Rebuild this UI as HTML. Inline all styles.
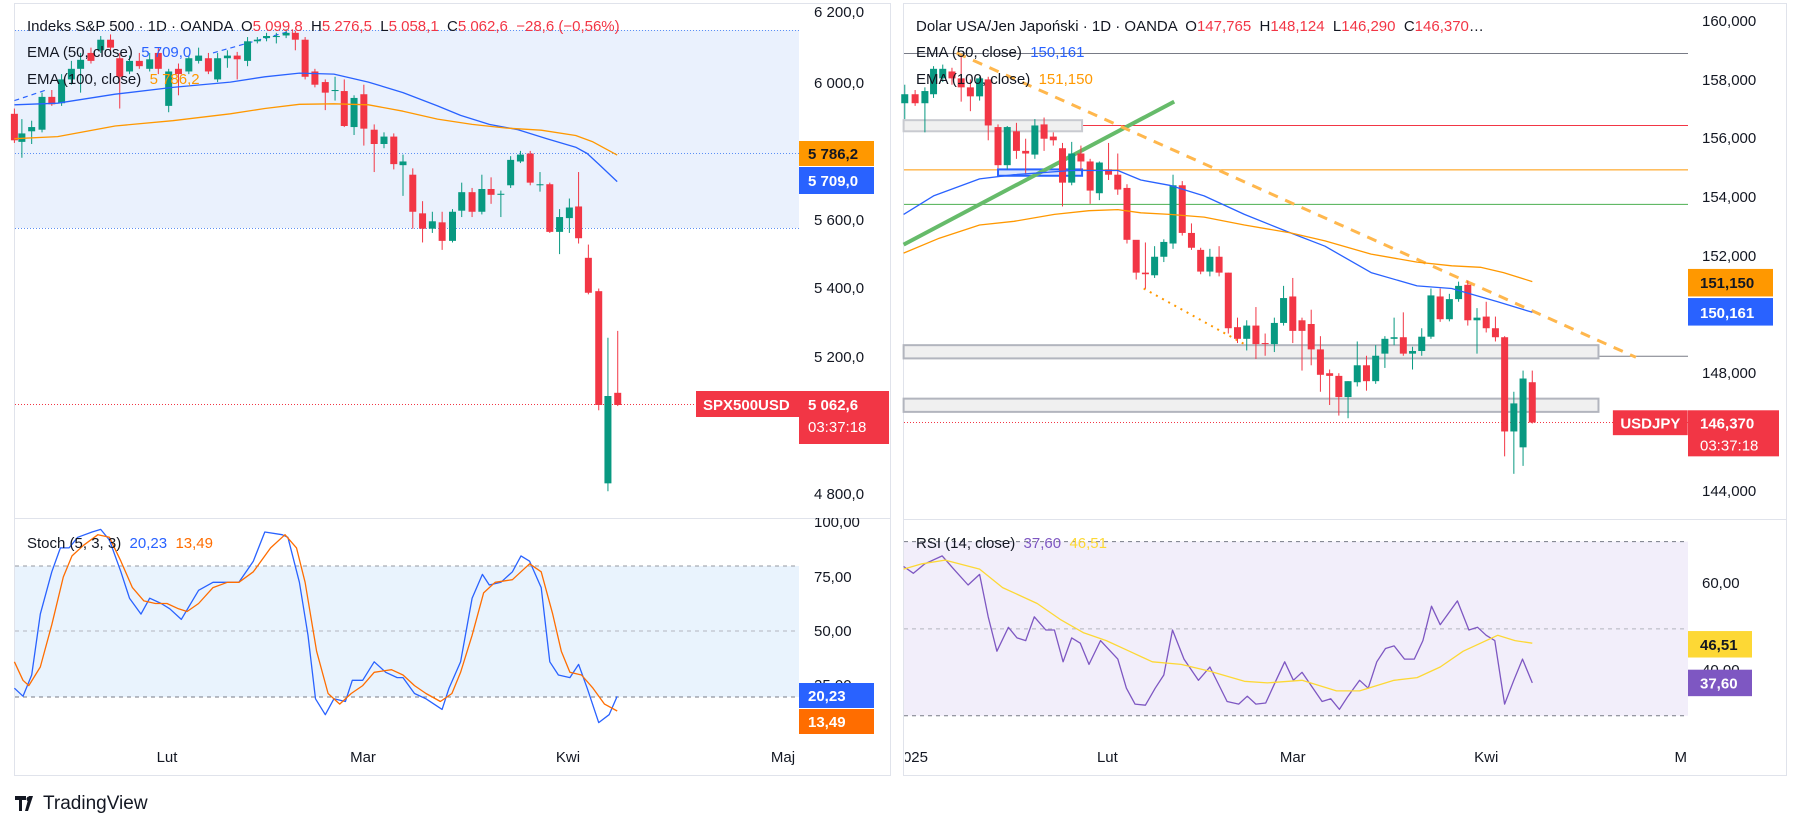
<!DOCTYPE html>
<html><head><meta charset="utf-8"><style>
html,body{margin:0;padding:0;background:#fff;width:1798px;height:829px;overflow:hidden}
svg{display:block;font-family:"Liberation Sans",sans-serif}
</style></head><body>
<svg id="s" width="1798" height="829" xmlns="http://www.w3.org/2000/svg">
<defs><clipPath id="rc"><rect x="905" y="0" width="880" height="829"/></clipPath></defs>
<rect x="14.5" y="3.5" width="876" height="772" fill="#fff" stroke="#e0e3eb"/>
<rect x="903.5" y="3.5" width="883" height="772" fill="#fff" stroke="#e0e3eb"/>
<line x1="15" y1="518.5" x2="890" y2="518.5" stroke="#e0e3eb"/>
<line x1="904" y1="519.5" x2="1786" y2="519.5" stroke="#e0e3eb"/>
<text x="928" y="762" font-size="15" fill="#131722" text-anchor="end" clip-path="url(#rc)">2025</text>
<g id="g"></g>
<g transform="translate(15,794)">
<path d="M0 2h11v4H7v11H4V6H0z M14 2h4l-5 15h-3z" fill="#131722"/>
<circle cx="14" cy="5" r="2.5" fill="#131722"/>
<text x="28" y="15" font-size="19" fill="#131722">TradingView</text>
</g>
</svg>
<script>
var NS="http://www.w3.org/2000/svg",G=document.getElementById('g');
function el(t,a,txt){var e=document.createElementNS(NS,t);for(var k in a)e.setAttribute(k,a[k]);if(txt!=null)e.textContent=txt;G.appendChild(e);return e;}
var SX=0.5757,SY=0.5294;
function z1(x,y){return [x*SX,y*SY];}
function z2(x,y){return [899+x*SX,y*SY];}
function poly(f,pts,st,w,dash){var s=pts.map(function(p){var q=f(p[0],p[1]);return q[0].toFixed(1)+','+q[1].toFixed(1)}).join(' ');var a={points:s,fill:'none',stroke:st,'stroke-width':w,'stroke-linejoin':'round'};if(dash)a['stroke-dasharray']=dash;el('polyline',a);}
function rect(x,y,w,h,f,o){var a={x:x,y:y,width:w,height:h,fill:f};if(o)for(var k in o)a[k]=o[k];el('rect',a);}
function txt(x,y,s,c,sz,anc,wt){var a={x:x,y:y,fill:c,'font-size':sz||15};if(anc)a['text-anchor']=anc;if(wt)a['font-weight']=wt;return el('text',a,s);}
function hl(x1,x2,y,c,w,d){var a={x1:x1,x2:x2,y1:y,y2:y,stroke:c,'stroke-width':w||1};if(d)a['stroke-dasharray']=d;el('line',a);}
var GR='#089981',RD='#f23645';

rect(15,30,784,198,'#eaf1fd');
hl(15,799,30.5,'#5b8ff5',1,'1 2');hl(15,799,153.5,'#5b8ff5',1,'1 2');hl(15,799,228.5,'#5b8ff5',1,'1 2');
hl(15,799,404.5,RD,1,'1 2');
rect(15,566,784,131,'#e9f3fd');
hl(15,799,566,'#9598a1',1,'4 4');hl(15,799,631,'#b2b5be',1,'4 4');hl(15,799,697,'#787b86',1,'4 4');
poly(z1,[[25,190],[80,170]],'#2962ff',1.2,'5 4');poly(z1,[[370,100],[500,60]],'#2962ff',1.2,'5 4');
var c1=[[25,215,265,'r',205,270],[38,252,268,'g',225,298],[55,240,248,'g',228,272],[73,183,245,'g',175,250],[90,183,197,'r',170,200],[107,150,195,'g',140,200],[124,130,150,'g',115,160],[140,113,130,'g',100,175],[158,100,115,'r',90,120],[175,75,95,'g',68,100],[192,75,90,'r',65,95],[208,110,145,'r',100,205],[225,115,135,'g',105,140],[242,115,125,'r',100,130],[260,112,130,'g',100,135],[275,100,130,'r',90,140],[293,135,200,'g',130,212],[310,130,140,'r',120,180],[328,110,135,'g',105,140],[345,105,115,'g',90,120],[362,110,135,'r',100,140],[378,110,150,'g',100,155],[395,105,110,'g',95,128],[412,105,112,'r',98,150],[430,78,115,'g',70,125],[447,75,78,'g',70,82],[463,68,72,'g',62,78],[480,68,70,'g',62,82],[497,62,67,'g',55,72],[513,62,75,'r',58,95],[530,75,145,'r',70,150],[547,135,160,'r',130,165],[565,155,175,'r',150,208],[582,170,172,'g',145,190],[598,172,238,'r',150,240],[615,185,240,'g',180,255],[632,178,243,'r',160,275],[650,245,272,'r',235,325],[667,258,272,'g',250,280],[684,258,310,'r',252,320],[700,305,312,'g',292,370],[717,330,400,'r',318,432],[734,403,432,'r',380,458],[751,418,432,'g',400,440],[768,420,455,'r',400,472],[786,400,455,'g',395,458],[802,363,398,'g',345,410],[820,363,400,'r',355,410],[837,357,400,'g',330,405],[853,357,368,'r',335,385],[870,366,368,'g',360,410],[887,302,350,'g',295,355],[904,292,305,'g',285,308],[921,290,345,'r',285,350],[938,348,350,'g',325,362],[955,348,438,'r',345,440],[972,410,438,'g',395,480],[989,392,412,'g',375,440],[1005,390,450,'r',325,460],[1022,487,553,'r',462,556],[1040,550,765,'r',545,775],[1056,748,913,'g',638,928],[1073,742,765,'r',625,767]];
c1.forEach(function(c){var a=z1(c[0],c[4]),b=z1(c[0],c[5]),t=z1(c[0],c[1]),u=z1(c[0],c[2]);var col=c[3]=='g'?GR:RD;
el('line',{x1:a[0],x2:a[0],y1:a[1],y2:b[1],stroke:col,'stroke-width':1});rect(t[0]-3.5,t[1],7,Math.max(1,u[1]-t[1]),col);});
poly(z1,[[25,198],[100,195],[200,178],[300,165],[400,155],[460,145],[520,138],[580,140],[640,155],[700,175],[760,200],[800,218],[850,235],[900,245],[950,262],[1000,278],[1020,290],[1040,310],[1072,343]],'#2962ff',1.3);
poly(z1,[[25,262],[100,258],[200,238],[300,228],[400,215],[460,205],[520,197],[580,196],[640,198],[700,210],[760,225],[820,235],[880,242],[940,246],[1000,256],[1030,268],[1050,280],[1072,293]],'#ff9800',1.3);
poly(z1,[[25,1300],[40,1315],[55,1275],[70,1160],[90,1080],[105,1035],[120,1035],[135,1015],[160,1005],[175,1000],[190,1020],[210,1080],[225,1130],[245,1160],[260,1130],[280,1140],[295,1150],[315,1170],[345,1115],[370,1100],[395,1100],[415,1100],[440,1060],[460,1005],[490,1010],[500,1015],[520,1100],[535,1200],[548,1320],[565,1350],[580,1320],[600,1325],[612,1285],[630,1285],[650,1250],[670,1270],[690,1280],[700,1280],[720,1310],[740,1320],[768,1340],[780,1300],[800,1250],[820,1130],[838,1085],[850,1105],[870,1100],[890,1080],[905,1050],[920,1060],[940,1110],[955,1250],[970,1275],[990,1280],[1005,1255],[1020,1300],[1040,1365],[1058,1350],[1072,1315]],'#2962ff',1.3);
poly(z1,[[25,1250],[40,1285],[50,1295],[70,1260],[90,1180],[110,1090],[125,1050],[145,1030],[170,1010],[190,1015],[210,1060],[230,1110],[250,1135],[270,1140],[290,1140],[310,1150],[325,1155],[345,1140],[370,1110],[395,1100],[415,1100],[440,1080],[470,1035],[495,1010],[515,1035],[530,1100],[550,1230],[570,1310],[590,1330],[610,1310],[630,1295],[650,1270],[680,1265],[700,1275],[720,1295],[740,1310],[765,1325],[785,1310],[800,1270],[820,1200],[840,1120],[860,1100],[890,1095],[920,1065],[940,1080],[960,1160],[975,1230],[990,1270],[1010,1275],[1030,1300],[1050,1330],[1072,1343]],'#ff6d00',1.3);
[['6 200,0',12],['6 000,0',83],['5 600,0',220],['5 400,0',288],['5 200,0',357],['4 800,0',494]].forEach(function(l){txt(814,l[1]+5,l[0],'#131722',15);});
[['75,00',577],['50,00',631],['25,00',685]].forEach(function(l){txt(814,l[1]+5,l[0],'#131722',15);});
txt(814,527,'100,00','#131722',15);
rect(800,505,89,13,'#fff');
rect(799,141,75,25,'#ff9800');txt(808,159,'5 786,2','#131722',15,null,'bold');
rect(799,167,75,27,'#2962ff');txt(808,186,'5 709,0','#fff',15,null,'bold');
rect(696,391,103,26,RD);txt(703,410,'SPX500USD','#fff',15,null,'bold');
rect(799,391,90,53,RD);txt(808,410,'5 062,6','#fff',15,null,'bold');txt(808,432,'03:37:18','#fff',15);
rect(799,683,75,25,'#2962ff');txt(808,701,'20,23','#fff',15,null,'bold');
rect(799,709,75,25,'#ff6d00');txt(808,727,'13,49','#fff',15,null,'bold');
[['Lut',167],['Mar',363],['Kwi',568],['Maj',783]].forEach(function(d){txt(d[1],762,d[0],'#131722',15,'middle');});
var lg=txt(27,31,'','#131722',15);
lg.innerHTML='Indeks S&amp;P 500 · 1D · OANDA  O<tspan fill="#f23645">5 099,8</tspan>  H<tspan fill="#f23645">5 276,5</tspan>  L<tspan fill="#f23645">5 058,1</tspan>  C<tspan fill="#f23645">5 062,6</tspan>  <tspan fill="#f23645">−28,6 (−0,56%)</tspan>';
lg.style.whiteSpace='pre';
var e1=txt(27,57,'','#131722',15);e1.innerHTML='EMA (50, close)  <tspan fill="#2962ff">5 709,0</tspan>';e1.style.whiteSpace='pre';
var e2=txt(27,84,'','#131722',15);e2.innerHTML='EMA (100, close)  <tspan fill="#ff9800">5 786,2</tspan>';e2.style.whiteSpace='pre';
var st=txt(27,548,'','#131722',15);st.innerHTML='Stoch (5, 3, 3)  <tspan fill="#2962ff">20,23</tspan>  <tspan fill="#ff6d00">13,49</tspan>';st.style.whiteSpace='pre';

function Y2(zy){return zy*SY;}
var XL=904,XR=1688;
rect(XL,Y2(1023),XR-XL,Y2(1352)-Y2(1023),'#f2eefa');
hl(XL,XR,Y2(1023),'#787b86',1,'4 4');hl(XL,XR,Y2(1188),'#b2b5be',1,'4 4');hl(XL,XR,Y2(1352),'#787b86',1,'4 4');
hl(XL,XR,Y2(101),'#787b86',1);hl(XL,XR,Y2(237),'#f23645',1);hl(XL,XR,Y2(321),'#ff9800',1);hl(XL,XR,Y2(386),'#4caf50',1);
hl(899+1215*SX,XR,Y2(673),'#787b86',1);
hl(XL,XR,Y2(798),RD,1,'1 2');
var p1=z2(8,652),p2=z2(1215,677);rect(p1[0],p1[1],p2[0]-p1[0],p2[1]-p1[1],'#f0f0f0',{stroke:'#b2b5be','stroke-width':2});
p1=z2(8,753);p2=z2(1215,778);rect(p1[0],p1[1],p2[0]-p1[0],p2[1]-p1[1],'#f0f0f0',{stroke:'#b2b5be','stroke-width':2});
p1=z2(8,227);p2=z2(318,248);rect(p1[0],p1[1],p2[0]-p1[0],p2[1]-p1[1],'#f0f0f0',{stroke:'#c8cad0','stroke-width':2});
p1=z2(172,320);p2=z2(318,332);rect(p1[0],p1[1],p2[0]-p1[0],p2[1]-p1[1],'#dde6fd',{stroke:'#2962ff','stroke-width':2});
poly(z2,[[8,462],[478,192]],'#66bb6a',4);
poly(z2,[[100,100],[1280,675]],'#ffb74d',3,'10 8');
poly(z2,[[425,545],[600,650]],'#ff9800',2,'2 5');
var c2=[[10,178,195,'g',160,225],[28,178,195,'r',170,200],[45,172,195,'g',165,250],[60,130,178,'g',125,185],[76,130,148,'g',122,155],[92,135,148,'r',128,160],[108,148,165,'r',105,192],[124,165,182,'r',150,210],[140,148,182,'g',145,190],[155,150,237,'r',145,265],[172,240,312,'r',235,318],[188,240,312,'g',238,320],[204,248,285,'r',232,300],[220,285,290,'r',262,330],[236,237,292,'g',225,300],[252,235,262,'r',222,285],[268,258,265,'r',250,275],[284,280,345,'r',270,390],[300,290,345,'g',268,350],[316,290,305,'r',275,322],[332,305,360,'r',300,385],[348,307,365,'g',305,378],[364,320,330,'r',270,340],[380,330,358,'r',290,368],[396,355,453,'r',348,460],[412,453,515,'r',455,528],[428,515,518,'r',458,545],[444,485,520,'g',465,525],[460,457,485,'g',452,495],[476,350,460,'g',330,470],[492,350,440,'r',342,445],[508,440,468,'r',422,472],[524,472,513,'r',468,518],[540,485,513,'g',470,522],[556,485,515,'r',465,522],[572,515,620,'r',515,630],[588,618,640,'r',600,648],[604,615,640,'g',605,662],[620,615,650,'r',580,678],[636,648,650,'r',630,672],[652,610,650,'g',600,665],[668,563,610,'g',540,615],[684,560,625,'r',525,648],[700,605,625,'r',600,700],[716,612,660,'r',585,690],[732,660,708,'r',635,740],[748,705,710,'r',698,765],[764,710,750,'r',705,785],[780,720,750,'g',720,790],[796,690,722,'g',645,730],[812,690,720,'r',672,738],[828,672,720,'g',652,725],[844,640,668,'g',635,695],[860,637,640,'g',600,652],[876,637,668,'r',590,672],[892,663,668,'g',655,698],[908,636,663,'g',620,672],[924,558,636,'g',545,640],[940,560,603,'r',545,608],[956,565,603,'g',555,607],[972,540,565,'g',532,570],[988,538,605,'r',530,615],[1004,600,605,'g',582,668],[1020,598,620,'r',570,628],[1036,620,637,'r',598,645],[1052,637,815,'r',635,862],[1068,762,815,'g',740,895],[1084,715,845,'g',700,880],[1100,722,798,'r',700,800]];
c2.forEach(function(c){var a=z2(c[0],c[4]),b=z2(c[0],c[5]),t=z2(c[0],c[1]),u=z2(c[0],c[2]);var col=c[3]=='g'?GR:RD;
el('line',{x1:a[0],x2:a[0],y1:a[1],y2:b[1],stroke:col,'stroke-width':1});rect(t[0]-3.5,t[1],7,Math.max(1,u[1]-t[1]),col);});
poly(z2,[[8,405],[60,370],[140,338],[200,330],[300,322],[380,322],[420,340],[470,350],[530,370],[600,405],[680,440],[740,465],[820,515],[900,540],[960,545],[1040,570],[1100,590]],'#2962ff',1.3);
poly(z2,[[8,478],[70,450],[140,425],[200,418],[270,405],[330,398],[380,396],[420,402],[470,405],[530,410],[600,425],[680,440],[740,455],[820,480],[900,495],[960,502],[1010,505],[1050,515],[1100,532]],'#ff9800',1.3);
poly(z2,[[8,1070],[25,1083],[45,1065],[75,1050],[95,1075],[120,1105],[140,1085],[155,1165],[170,1230],[190,1185],[205,1205],[220,1210],[235,1165],[255,1190],[270,1190],[285,1250],[300,1205],[315,1215],[330,1255],[350,1210],[380,1245],[395,1300],[410,1330],[428,1332],[445,1300],[460,1275],[475,1190],[495,1245],[520,1285],[540,1260],[570,1325],[590,1330],[605,1315],[620,1330],[637,1328],[655,1285],[670,1250],[685,1285],[700,1270],[735,1325],[750,1320],[765,1340],[780,1315],[800,1285],[815,1300],[830,1250],[845,1225],[860,1220],[878,1245],[895,1245],[910,1210],[925,1145],[940,1180],[970,1135],[990,1190],[1005,1185],[1020,1200],[1035,1210],[1052,1330],[1068,1285],[1083,1245],[1100,1290]],'#7e57c2',1.3);
poly(z2,[[8,1075],[40,1065],[80,1058],[140,1075],[180,1110],[240,1140],[280,1170],[320,1195],[360,1210],[400,1230],[440,1250],[490,1255],[540,1268],[600,1287],[640,1290],[700,1285],[760,1305],[800,1305],[860,1285],[900,1280],[940,1260],[980,1230],[1040,1200],[1070,1210],[1100,1215]],'#fdd835',1.3);
[['160,000',21],['158,000',80],['156,000',138],['154,000',197],['152,000',256],['148,000',373],['144,000',491]].forEach(function(l){txt(1702,l[1]+5,l[0],'#131722',15);});
txt(1702,588,'60,00','#131722',15);txt(1702,675,'40,00','#131722',15);
rect(1688,Y2(508),85,Y2(560)-Y2(508),'#ff9800');txt(1700,Y2(508)+19,'151,150','#131722',15,null,'bold');
rect(1688,Y2(563),85,Y2(615)-Y2(563),'#2962ff');txt(1700,Y2(563)+20,'150,161','#fff',15,null,'bold');
rect(899+1240*SX,Y2(775),130*SX,Y2(822)-Y2(775),RD);txt(899+1253*SX,Y2(775)+18,'USDJPY','#fff',15,null,'bold');
rect(1688,Y2(775),91,Y2(862)-Y2(775),RD);txt(1700,Y2(775)+18,'146,370','#fff',15,null,'bold');txt(1700,Y2(775)+40,'03:37:18','#fff',15);
rect(1688,Y2(1192),64,Y2(1242)-Y2(1192),'#fdd835');txt(1700,Y2(1192)+19,'46,51','#131722',15,null,'bold');
rect(1688,Y2(1265),64,Y2(1315)-Y2(1265),'#7e57c2');txt(1700,Y2(1265)+19,'37,60','#fff',15,null,'bold');
[['Lut',899+362*SX],['Mar',899+684*SX],['Kwi',899+1020*SX],['M',899+1358*SX]].forEach(function(d){txt(d[1],762,d[0],'#131722',15,'middle');});
var lr=txt(916,31,'','#131722',15);lr.style.whiteSpace='pre';
lr.innerHTML='Dolar USA/Jen Japoński · 1D · OANDA  O<tspan fill="#f23645">147,765</tspan>  H<tspan fill="#f23645">148,124</tspan>  L<tspan fill="#f23645">146,290</tspan>  C<tspan fill="#f23645">146,370</tspan>…';
var r1=txt(916,57,'','#131722',15);r1.style.whiteSpace='pre';r1.innerHTML='EMA (50, close)  <tspan fill="#2962ff">150,161</tspan>';
var r2=txt(916,84,'','#131722',15);r2.style.whiteSpace='pre';r2.innerHTML='EMA (100, close)  <tspan fill="#ff9800">151,150</tspan>';
var r3=txt(916,548,'','#131722',15);r3.style.whiteSpace='pre';r3.innerHTML='RSI (14, close)  <tspan fill="#7e57c2">37,60</tspan>  <tspan fill="#fdd835">46,51</tspan>';
</script>
</body></html>
